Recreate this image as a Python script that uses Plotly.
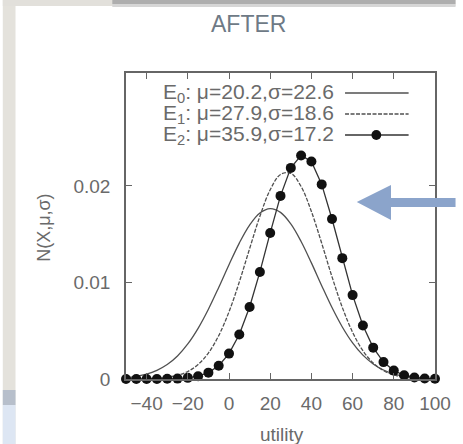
import plotly.graph_objects as go

# ---- data ----
utility = [-50, -45, -40, -35, -30, -25, -20, -15, -10, -5, 0, 5, 10, 15, 20, 25,
           30, 35, 40, 45, 50, 55, 60, 65, 70, 75, 80, 85, 90, 95, 100]
e0_vals = [0.00014, 0.00028, 0.00051, 0.00090, 0.00150, 0.00239, 0.00363, 0.00525,
           0.00723, 0.00948, 0.01184, 0.01408, 0.01594, 0.01719, 0.01765, 0.01726,
           0.01607, 0.01425, 0.01203, 0.00967, 0.00740, 0.00539, 0.00374, 0.00247,
           0.00156, 0.00093, 0.00053, 0.00029, 0.00015, 0.00007, 0.00003]
e1_vals = [0.00000, 0.00001, 0.00003, 0.00007, 0.00017, 0.00038, 0.00078, 0.00150,
           0.00269, 0.00449, 0.00696, 0.01005, 0.01350, 0.01686, 0.01960, 0.02119,
           0.02131, 0.01994, 0.01735, 0.01406, 0.01059, 0.00742, 0.00484, 0.00293,
           0.00166, 0.00087, 0.00042, 0.00019, 0.00008, 0.00003, 0.00001]
e2_vals = [0.00000, 0.00000, 0.00000, 0.00000, 0.00002, 0.00004, 0.00012, 0.00029,
           0.00066, 0.00138, 0.00263, 0.00461, 0.00746, 0.01109, 0.01513, 0.01897,
           0.02187, 0.02316, 0.02254, 0.02016, 0.01657, 0.01252, 0.00869, 0.00554,
           0.00325, 0.00175, 0.00087, 0.00039, 0.00016, 0.00006, 0.00002]
series_labels = ["E<sub>0</sub>: μ=20.2,σ=22.6",
                 "E<sub>1</sub>: μ=27.9,σ=18.6",
                 "E<sub>2</sub>: μ=35.9,σ=17.2"]
x_ticks = [-40, -20, 0, 20, 40, 60, 80, 100]
y_ticks = [0, 0.01, 0.02]
y_tick_text = ["0", "0.01", "0.02"]
title_text = "AFTER"
x_title = "utility"
y_title = "N(X,μ,σ)"

# ---- layout geometry ----
W, H = 463, 444
L, R, T, B = 126, 21, 73, 65
PW, PH = W - L - R, H - T - B

def px(x):
    return (x - L) / PW

def py(y):
    return (H - B - y) / PH

FONT = "Liberation Sans, Arial, sans-serif"
TXT = "#6a6a6a"
LINE = "#505050"

fig = go.Figure()
fig.add_trace(go.Scatter(x=utility, y=e0_vals, mode="lines", line_shape="spline",
                         line=dict(color=LINE, width=1.3), showlegend=False))
fig.add_trace(go.Scatter(x=utility, y=e1_vals, mode="lines", line_shape="spline",
                         line=dict(color=LINE, width=1.3, dash="4px,1.5px"),
                         showlegend=False))
fig.add_trace(go.Scatter(x=utility, y=e2_vals, mode="lines+markers",
                         line=dict(color="#333333", width=1.3),
                         marker=dict(color="#111111", size=10),
                         cliponaxis=False, showlegend=False))

shapes = []
annotations = []

# background photo-like surroundings
shapes.append(dict(type="rect", xref="paper", yref="paper", x0=px(0), x1=px(13),
                   y0=py(444), y1=py(0), fillcolor="#e4e2dc", line_width=0, layer="below"))
shapes.append(dict(type="rect", xref="paper", yref="paper", x0=px(0), x1=px(13),
                   y0=py(405), y1=py(390), fillcolor="#b7bfcb", line_width=0, layer="below"))
shapes.append(dict(type="rect", xref="paper", yref="paper", x0=px(0), x1=px(13),
                   y0=py(444), y1=py(405), fillcolor="#dde6f3", line_width=0, layer="below"))
shapes.append(dict(type="rect", xref="paper", yref="paper", x0=px(0), x1=px(463),
                   y0=py(6), y1=py(0), fillcolor="#e2e0db", line_width=0, layer="below"))
shapes.append(dict(type="rect", xref="paper", yref="paper", x0=px(112), x1=px(463),
                   y0=py(4), y1=py(0), fillcolor="#aeaeae", line_width=0, layer="below"))
shapes.append(dict(type="rect", xref="paper", yref="paper", x0=px(112), x1=px(463),
                   y0=py(7), y1=py(4), fillcolor="#d6d6d6", line_width=0, layer="below"))

# blue arrow
arrow_path = ("M {} {} L {} {} L {} {} L {} {} L {} {} L {} {} L {} {} Z").format(
    px(362), py(202), px(397), py(185), px(397), py(198), px(463), py(198),
    px(463), py(207), px(397), py(207), px(397), py(220))
shapes.append(dict(type="path", xref="paper", yref="paper", path=arrow_path,
                   fillcolor="#8ba4cb", line_width=0, layer="above"))

# legend (gnuplot style: text, then sample)
rows = [93, 114, 135]
for i, (lab, yy) in enumerate(zip(series_labels, rows)):
    annotations.append(dict(text=lab, xref="paper", yref="paper", x=px(341), y=py(yy),
                            xanchor="right", yanchor="middle", showarrow=False,
                            font=dict(family=FONT, size=21, color=TXT)))
    dash = "solid" if i != 1 else "4px,1.5px"
    shapes.append(dict(type="line", xref="paper", yref="paper", x0=px(350), x1=px(415),
                       y0=py(yy), y1=py(yy),
                       line=dict(color=LINE if i < 2 else "#333333", width=1.3,
                                 dash=dash)))
shapes.append(dict(type="circle", xref="paper", yref="paper",
                   x0=px(377), x1=px(387), y0=py(140), y1=py(130),
                   fillcolor="#111111", line_width=0))

annotations.append(dict(text=title_text, xref="paper", yref="paper", x=px(251), y=py(24),
                        xanchor="center", yanchor="middle", showarrow=False,
                        font=dict(family=FONT, size=23, color="#6e7a86")))
annotations.append(dict(text=x_title, xref="paper", yref="paper", x=px(286), y=py(434),
                        xanchor="center", yanchor="middle", showarrow=False,
                        font=dict(family=FONT, size=19, color=TXT)))
annotations.append(dict(text=y_title, xref="paper", yref="paper", x=px(42), y=py(228),
                        xanchor="center", yanchor="middle", showarrow=False, textangle=-90,
                        font=dict(family=FONT, size=18, color=TXT)))

axis_common = dict(showline=True, linecolor="#666666", linewidth=1.5, mirror="ticks",
                   ticks="inside", ticklen=6, tickcolor="#666666", tickwidth=1.2,
                   showgrid=False, zeroline=False,
                   tickfont=dict(family=FONT, size=19, color=TXT))

fig.update_layout(
    width=W, height=H,
    margin=dict(l=L, r=R, t=T, b=B),
    paper_bgcolor="white", plot_bgcolor="white",
    xaxis=dict(range=[-50, 100], tickvals=x_ticks, ticklabelstandoff=6, **axis_common),
    yaxis=dict(range=[0, 0.0317], tickvals=y_ticks, ticktext=y_tick_text,
               ticklabelstandoff=10, **axis_common),
    shapes=shapes, annotations=annotations, showlegend=False,
)

fig.write_html("out.html", config={"displayModeBar": False},
               post_script="document.body.style.margin='0';document.body.style.overflow='hidden';")
